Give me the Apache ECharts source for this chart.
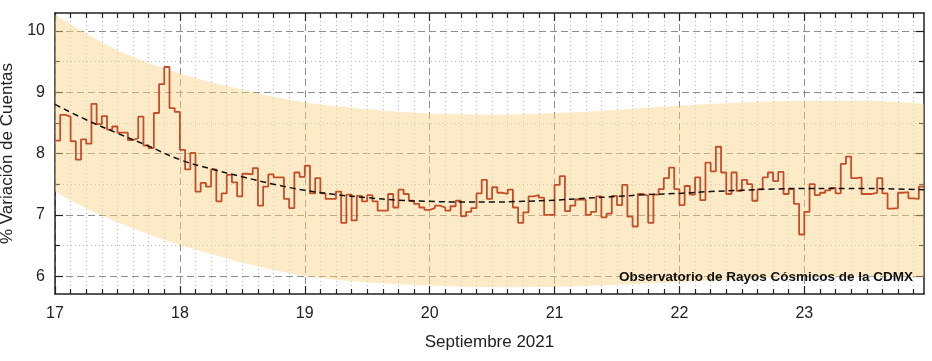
<!DOCTYPE html>
<html><head><meta charset="utf-8">
<script src="https://cdn.jsdelivr.net/npm/echarts@6/dist/echarts.min.js"></script>
<style>html,body{margin:0;padding:0;background:#fff}#c{width:932px;height:361px}</style>
</head><body><div id="c"></div>
<script>
// ---- data (hourly % count variation, Sept 2021) ----
const dayLabels = [17, 18, 19, 20, 21, 22, 23];
const day17 = [8.21, 8.63, 8.60, 8.20, 7.90, 8.23, 8.16, 8.81, 8.48, 8.61, 8.39, 8.44, 8.34, 8.34, 8.22, 8.25, 8.60, 8.13, 8.09, 8.66, 9.13, 9.41, 8.74, 8.68];
const day18 = [8.06, 7.74, 8.01, 7.38, 7.52, 7.46, 7.74, 7.22, 7.35, 7.65, 7.53, 7.30, 7.67, 7.66, 7.76, 7.15, 7.46, 7.66, 7.61, 7.61, 7.26, 7.11, 7.69, 7.62];
const day19 = [7.80, 7.35, 7.60, 7.35, 7.26, 7.26, 7.38, 6.87, 7.33, 6.91, 7.31, 7.22, 7.32, 7.22, 7.07, 7.07, 7.34, 7.12, 7.41, 7.34, 7.23, 7.18, 7.12, 7.08];
const day20 = [7.11, 7.15, 7.12, 7.07, 7.14, 7.23, 6.98, 7.05, 7.11, 7.35, 7.57, 7.26, 7.45, 7.36, 7.34, 7.41, 7.12, 6.87, 7.04, 7.30, 7.32, 7.28, 7.00, 7.00];
const day21 = [7.49, 7.63, 7.06, 7.15, 7.25, 7.25, 7.00, 7.05, 7.30, 6.96, 7.02, 7.31, 7.16, 7.49, 6.97, 6.81, 7.34, 7.31, 6.87, 7.33, 7.42, 7.60, 7.77, 7.42];
const day22 = [7.16, 7.47, 7.33, 7.61, 7.24, 7.85, 7.71, 8.11, 7.69, 7.34, 7.69, 7.39, 7.57, 7.50, 7.23, 7.42, 7.61, 7.69, 7.55, 7.70, 7.34, 7.42, 7.18, 6.68];
const day23 = [7.05, 7.50, 7.32, 7.36, 7.40, 7.44, 7.35, 7.83, 7.95, 7.60, 7.61, 7.34, 7.34, 7.36, 7.60, 7.35, 7.10, 7.11, 7.36, 7.37, 7.27, 7.26, 7.46];

// trend (dashed) and confidence band, sampled every 6 h
const trendX = [17, 17.25, 17.5, 17.75, 18, 18.25, 18.5, 18.75, 19, 19.25, 19.5, 19.75, 20, 20.25, 20.5, 20.75, 21, 21.25, 21.5, 21.75, 22, 22.25, 22.5, 22.75, 23, 23.25, 23.5, 23.75, 23.9583];
const trendY = [8.80, 8.55, 8.33, 8.12, 7.90, 7.75, 7.62, 7.50, 7.40, 7.33, 7.28, 7.24, 7.22, 7.21, 7.21, 7.22, 7.24, 7.27, 7.30, 7.33, 7.35, 7.38, 7.40, 7.42, 7.43, 7.43, 7.43, 7.42, 7.41];
const bandUpper = [10.26, 9.95, 9.68, 9.47, 9.30, 9.16, 9.04, 8.92, 8.83, 8.77, 8.72, 8.68, 8.65, 8.64, 8.63, 8.64, 8.66, 8.68, 8.71, 8.75, 8.78, 8.81, 8.83, 8.85, 8.86, 8.86, 8.86, 8.84, 8.81];
const bandLower = [7.38, 7.10, 6.88, 6.68, 6.51, 6.36, 6.22, 6.10, 6.00, 5.94, 5.90, 5.87, 5.85, 5.83, 5.82, 5.82, 5.83, 5.84, 5.86, 5.88, 5.90, 5.93, 5.95, 5.97, 5.99, 5.99, 5.99, 5.99, 5.98];

const yMajorTicks = [6, 7, 8, 9, 10];
const yMinorTicks = [6.5, 7.5, 8.5, 9.5];
const xMajorTicks = dayLabels;

// ---- build ----
const hourly = [].concat(day17, day18, day19, day20, day21, day22, day23);
const xStart = 17;
const stepData = hourly.map((v, i) => [xStart + i / 24, v]);
const xEnd = xStart + hourly.length / 24;
stepData.push([xEnd, hourly[hourly.length - 1]]);
const xMinorTicks = [];
dayLabels.forEach(d => { for (let k = 1; k < 8; k++) { const t = d + k / 8; if (t < xEnd) xMinorTicks.push(t); } });

const FONT = '"Liberation Sans", Arial, sans-serif';
const AX = '#222';
const MAJ = { type: [7, 4], color: '#8e8e8e', width: 1 };
const MIN = { type: [1, 3], color: '#bdbdbd', width: 1 };
const yMin = 5.71, yMax = 10.29;

function xAx(pos, ticks, len, label, split, lineShow) {
  return {
    type: 'value', position: pos, min: xStart, max: xEnd,
    axisLine: { show: lineShow, onZero: false, lineStyle: { color: AX, width: 1.5 } },
    axisTick: { show: true, inside: true, length: len, customValues: ticks, lineStyle: { color: AX, width: 1.2 } },
    axisLabel: label ? { show: true, customValues: ticks, fontSize: 16, color: AX, fontFamily: FONT, margin: 12 } : { show: false, customValues: ticks },
    splitLine: split ? { show: true, lineStyle: split } : { show: false },
    minorTick: { show: false }, minorSplitLine: { show: false }
  };
}
function yAx(pos, ticks, len, label, split, lineShow) {
  return {
    type: 'value', position: pos, min: yMin, max: yMax,
    axisLine: { show: lineShow, onZero: false, lineStyle: { color: AX, width: 1.5 } },
    axisTick: { show: true, inside: true, length: len, customValues: ticks, lineStyle: { color: AX, width: 1.2 } },
    axisLabel: label ? { show: true, customValues: ticks, fontSize: 16, color: AX, fontFamily: FONT, margin: 10 } : { show: false, customValues: ticks },
    splitLine: split ? { show: true, lineStyle: split } : { show: false },
    minorTick: { show: false }, minorSplitLine: { show: false }
  };
}

const xAxes = [
  Object.assign(xAx('bottom', xMajorTicks, 8, true, MAJ, true), {
    name: 'Septiembre 2021', nameLocation: 'middle', nameGap: 40,
    nameTextStyle: { fontSize: 17, color: AX, fontFamily: FONT }
  }),
  xAx('top', xMajorTicks, 8, false, null, true),
  xAx('bottom', xMinorTicks, 5, false, MIN, false),
  xAx('top', xMinorTicks, 5, false, null, false)
];
const yAxes = [
  Object.assign(yAx('left', yMajorTicks, 8, true, MAJ, true), {
    name: '% Variación de Cuentas', nameLocation: 'middle', nameGap: 33, nameRotate: 90,
    nameTextStyle: { fontSize: 17, color: AX, fontFamily: FONT }
  }),
  yAx('right', yMajorTicks, 8, false, null, true),
  yAx('left', yMinorTicks, 5, false, MIN, false),
  yAx('right', yMinorTicks, 5, false, null, false)
];

const chart = echarts.init(document.getElementById('c'), null, { renderer: 'canvas' });
chart.setOption({
  animation: false,
  backgroundColor: '#fff',
  grid: { left: 55, right: 8, top: 13, bottom: 67, containLabel: false, outerBoundsMode: 'none' },
  xAxis: xAxes,
  yAxis: yAxes,
  graphic: [{
    type: 'text', right: 19, top: 270, z: 100,
    style: { text: 'Observatorio de Rayos Cósmicos de la CDMX', font: 'bold 13.5px ' + FONT, fill: '#111' }
  }],
  series: [
    {
      type: 'custom', name: 'banda', coordinateSystem: 'cartesian2d', xAxisIndex: 0, yAxisIndex: 0,
      silent: true, clip: true, z: 1,
      data: [[trendX[0], trendY[0]]],
      renderItem: function (params, api) {
        const pts = [];
        for (let i = 0; i < trendX.length; i++) pts.push(api.coord([trendX[i], bandUpper[i]]));
        for (let i = trendX.length - 1; i >= 0; i--) pts.push(api.coord([trendX[i], bandLower[i]]));
        return {
          type: 'polygon', shape: { points: pts },
          style: { fill: 'rgba(250,211,133,0.45)', stroke: null }
        };
      }
    },
    {
      type: 'line', name: 'datos', step: 'end', symbol: 'none', silent: true,
      data: stepData, lineStyle: { color: '#c44e28', width: 1.8 }, z: 3
    },
    {
      type: 'line', name: 'tendencia', smooth: true, symbol: 'none', silent: true,
      data: trendX.map((x, i) => [x, trendY[i]]),
      lineStyle: { color: '#111', width: 1.5, type: [6, 4] }, z: 4
    }
  ]
});
</script></body></html>
